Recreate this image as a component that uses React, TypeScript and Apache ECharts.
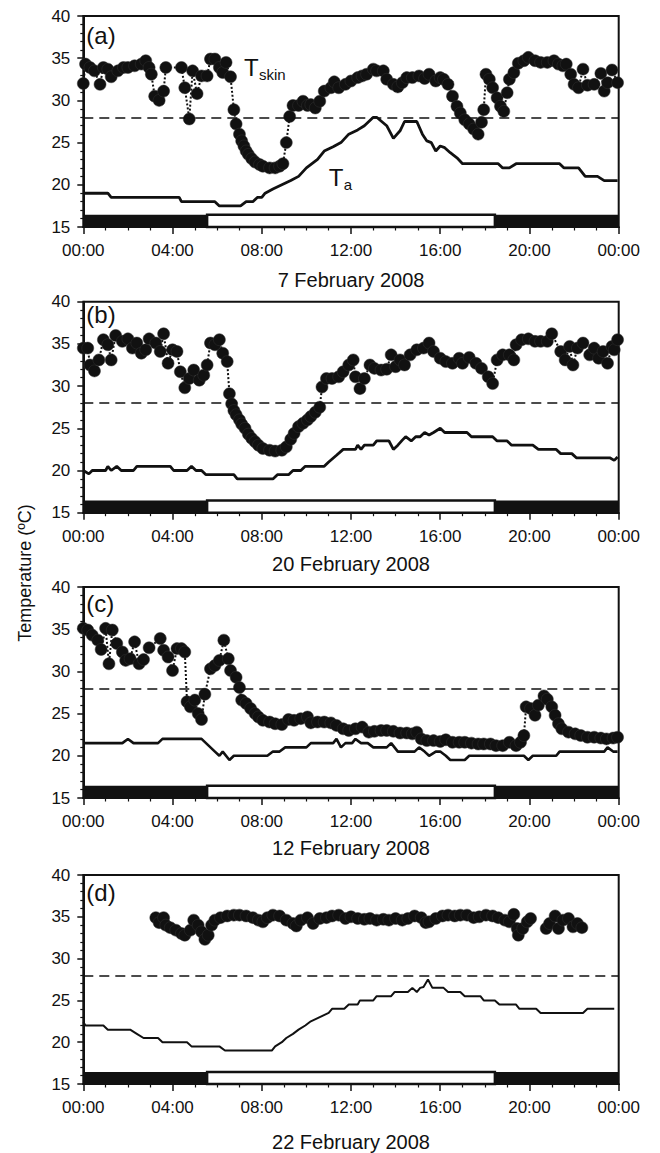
import React, { useEffect, useRef } from "react";
import * as echarts from "echarts";

// ---------- text ----------
const panelLetters = ["(a)", "(b)", "(c)", "(d)"];
const dateLabels = ["7 February 2008", "20 February 2008", "12 February 2008", "22 February 2008"];
const xTickLabels = ["00:00", "04:00", "08:00", "12:00", "16:00", "20:00", "00:00"];
const yAxisTitle = "Temperature (ºC)";

// ---------- photoperiod (hours) ----------
const lightsOn = 5.55;
const lightsOff = 18.45;
const thermoneutralLimit = 28;

// ---------- panel (a) 7 Feb 2008 ----------
const skinA: [number, number][] = [
  [0.0, 32.0], [0.1, 34.3], [0.3, 33.9], [0.5, 33.5], [0.75, 31.9], [0.9, 33.9], [1.1, 33.7], [1.25, 32.8],
  [1.55, 33.5], [1.8, 33.9], [2.0, 33.9], [2.3, 34.1], [2.6, 34.3], [2.8, 34.7], [2.95, 33.9], [3.05, 33.1],
  [3.2, 30.5], [3.4, 30.0], [3.6, 31.1], [3.7, 33.9], [4.4, 33.9], [4.55, 31.5], [4.75, 27.8], [4.9, 33.5],
  [5.1, 30.8], [5.3, 32.9], [5.55, 32.9], [5.7, 34.9], [5.9, 34.9], [6.1, 33.9], [6.25, 33.3], [6.4, 34.5],
  [6.6, 32.8], [6.75, 28.9], [6.85, 27.2], [7.0, 26.0], [7.1, 25.2], [7.2, 24.6], [7.3, 24.0], [7.4, 23.6],
  [7.55, 23.1], [7.7, 22.7], [7.9, 22.4], [8.05, 22.2], [8.35, 22.0], [8.6, 22.0], [8.8, 22.2], [8.95, 22.5],
  [9.1, 25.0], [9.25, 28.1], [9.4, 29.4], [9.65, 29.4], [9.85, 29.9], [10.05, 29.4], [10.2, 29.5], [10.4, 29.1],
  [10.6, 29.9], [10.8, 31.1], [11.1, 31.5], [11.25, 32.2], [11.45, 31.5], [11.75, 31.9], [12.0, 32.3], [12.3, 32.7],
  [12.5, 32.9], [12.7, 33.1], [13.0, 33.7], [13.15, 33.5], [13.45, 33.5], [13.6, 32.5], [13.9, 31.9], [14.1, 31.6],
  [14.3, 32.1], [14.5, 32.7], [14.75, 32.7], [15.05, 32.9], [15.3, 32.6], [15.5, 33.1], [15.8, 32.3], [16.0, 32.7],
  [16.15, 32.5], [16.35, 31.9], [16.55, 30.5], [16.75, 29.3], [16.9, 28.5], [17.1, 27.7], [17.3, 27.2], [17.5, 26.6],
  [17.7, 26.0], [17.85, 27.4], [17.95, 28.9], [18.05, 33.1], [18.2, 32.5], [18.35, 31.5], [18.55, 30.3], [18.7, 29.3],
  [18.85, 28.7], [19.0, 30.9], [19.1, 32.5], [19.3, 33.3], [19.5, 34.4], [19.75, 34.7], [19.95, 35.1], [20.25, 34.7],
  [20.5, 34.5], [20.8, 34.5], [21.1, 34.7], [21.3, 34.3], [21.5, 34.1], [21.65, 34.3], [21.85, 33.1], [22.0, 31.9],
  [22.2, 31.5], [22.4, 33.7], [22.6, 31.8], [22.9, 31.9], [23.2, 33.2], [23.35, 31.1], [23.5, 32.1], [23.7, 33.6],
  [23.95, 32.1],
];
const airA: [number, number][] = [
  [0.0, 19.0], [1.1, 19.0], [1.25, 18.5], [4.3, 18.5], [4.4, 18.0], [5.9, 18.0], [6.1, 17.5], [7.05, 17.5],
  [7.3, 18.0], [7.6, 18.0], [7.8, 18.5], [8.0, 18.5], [8.15, 19.0], [8.5, 19.5], [8.9, 20.0], [9.3, 20.5],
  [9.65, 21.0], [10.0, 22.0], [10.5, 23.0], [10.8, 24.0], [11.2, 24.5], [11.55, 25.0], [11.9, 26.0], [12.3, 26.5],
  [12.6, 27.0], [13.0, 28.0], [13.15, 28.0], [13.6, 27.0], [13.9, 25.5], [14.2, 26.4], [14.4, 27.5], [14.95, 27.5],
  [15.2, 26.0], [15.4, 25.2], [15.6, 25.0], [15.8, 24.0], [16.0, 24.6], [16.2, 24.4], [16.45, 23.8], [16.75, 23.2],
  [17.0, 22.5], [18.6, 22.5], [18.8, 22.0], [19.1, 22.0], [19.4, 22.5], [21.35, 22.5], [21.55, 22.0], [22.2, 22.0],
  [22.5, 21.0], [23.05, 21.0], [23.35, 20.5], [23.95, 20.5],
];

// ---------- panel (b) 20 Feb 2008 ----------
const skinB: [number, number][] = [
  [0.0, 34.5], [0.2, 34.5], [0.3, 32.5], [0.5, 31.8], [0.7, 33.1], [0.9, 35.5], [1.1, 34.9], [1.25, 33.1],
  [1.45, 36.0], [1.75, 35.3], [2.0, 35.6], [2.2, 34.5], [2.4, 35.1], [2.6, 33.9], [2.8, 34.3], [2.95, 35.6],
  [3.25, 35.1], [3.45, 34.1], [3.6, 36.2], [3.8, 32.7], [4.0, 34.3], [4.2, 34.1], [4.35, 31.7], [4.55, 29.8],
  [4.75, 30.9], [4.95, 31.9], [5.2, 30.7], [5.4, 31.3], [5.55, 32.5], [5.7, 35.1], [5.9, 34.9], [6.1, 35.5],
  [6.25, 33.9], [6.45, 32.9], [6.55, 29.1], [6.65, 27.9], [6.75, 27.1], [6.85, 26.6], [7.0, 26.0], [7.1, 25.5],
  [7.25, 25.0], [7.4, 24.3], [7.55, 23.8], [7.7, 23.4], [7.85, 23.0], [8.05, 22.6], [8.35, 22.4], [8.6, 22.3],
  [8.9, 22.4], [9.1, 22.8], [9.3, 23.7], [9.45, 24.4], [9.65, 25.2], [9.85, 25.6], [10.05, 26.0], [10.2, 26.4],
  [10.4, 26.9], [10.6, 27.5], [10.7, 29.9], [10.9, 30.9], [11.15, 30.9], [11.45, 31.1], [11.65, 31.7], [11.9, 32.5],
  [12.1, 33.1], [12.2, 31.1], [12.4, 29.7], [12.6, 30.9], [12.85, 32.5], [13.05, 32.1], [13.35, 31.9], [13.6, 32.0],
  [13.8, 33.7], [14.0, 32.3], [14.2, 33.1], [14.4, 32.5], [14.65, 33.7], [14.95, 34.3], [15.25, 34.5], [15.5, 35.1],
  [15.7, 34.1], [16.0, 33.3], [16.25, 32.9], [16.55, 32.7], [16.85, 33.3], [17.0, 32.7], [17.3, 33.4], [17.6, 32.7],
  [17.85, 32.1], [18.15, 31.1], [18.35, 30.3], [18.55, 33.1], [18.8, 33.7], [19.1, 33.7], [19.3, 33.1], [19.4, 34.9],
  [19.65, 35.5], [19.95, 35.6], [20.25, 35.3], [20.5, 35.3], [20.8, 35.3], [21.0, 36.2], [21.4, 34.1], [21.6, 33.1],
  [21.8, 34.7], [21.95, 32.5], [22.15, 34.5], [22.4, 35.1], [22.7, 33.7], [22.9, 34.5], [23.1, 33.3], [23.3, 34.1],
  [23.5, 32.7], [23.7, 34.7], [23.8, 34.3], [23.95, 35.5],
];
const airB: [number, number][] = [
  [0.0, 20.0], [0.25, 19.6], [0.4, 20.0], [1.0, 20.0], [1.1, 20.5], [1.25, 20.0], [1.5, 20.5], [1.7, 20.0],
  [2.25, 20.0], [2.4, 20.5], [3.9, 20.5], [4.05, 20.0], [4.65, 20.0], [4.85, 20.5], [5.05, 20.0], [5.3, 20.0],
  [5.5, 19.5], [6.75, 19.5], [6.9, 19.0], [8.5, 19.0], [8.7, 19.5], [9.2, 19.5], [9.4, 20.0], [9.75, 20.0],
  [9.95, 20.5], [10.8, 20.5], [11.0, 21.0], [11.35, 21.8], [11.65, 22.5], [12.2, 22.5], [12.3, 23.0], [12.45, 22.5],
  [12.6, 23.0], [13.0, 23.0], [13.15, 23.5], [13.7, 23.5], [13.9, 22.5], [14.1, 23.0], [14.3, 23.6], [14.45, 24.0],
  [14.7, 23.5], [14.9, 24.0], [15.1, 24.0], [15.3, 24.5], [15.5, 24.2], [15.7, 24.5], [16.0, 25.0], [16.2, 24.5],
  [17.2, 24.5], [17.4, 24.0], [18.35, 24.0], [18.55, 23.5], [19.0, 23.5], [19.2, 23.0], [20.15, 23.0], [20.4, 22.5],
  [21.2, 22.5], [21.4, 22.0], [21.9, 22.0], [22.1, 21.5], [23.6, 21.5], [23.8, 21.2], [23.95, 21.6],
];

// ---------- panel (c) 12 Feb 2008 ----------
const skinC: [number, number][] = [
  [0.0, 35.1], [0.2, 34.9], [0.4, 34.3], [0.65, 33.7], [0.8, 32.6], [1.0, 35.1], [1.15, 30.9], [1.3, 34.9],
  [1.5, 33.3], [1.75, 32.3], [1.9, 31.3], [2.1, 31.5], [2.3, 33.5], [2.5, 30.9], [2.7, 31.4], [2.95, 32.8],
  [3.45, 33.9], [3.6, 32.5], [3.8, 31.7], [4.0, 30.1], [4.2, 32.7], [4.4, 32.7], [4.55, 32.3], [4.65, 26.4],
  [4.8, 25.8], [5.0, 26.6], [5.15, 25.0], [5.3, 24.3], [5.45, 27.3], [5.7, 30.3], [5.9, 30.7], [6.1, 31.3],
  [6.3, 33.7], [6.5, 31.5], [6.6, 30.1], [6.85, 29.3], [7.0, 28.1], [7.1, 26.6], [7.3, 26.2], [7.5, 25.6],
  [7.7, 25.0], [7.85, 24.6], [8.05, 24.2], [8.35, 24.0], [8.6, 23.8], [8.9, 23.7], [9.2, 24.3], [9.45, 24.2],
  [9.75, 24.4], [10.05, 24.6], [10.2, 23.9], [10.5, 24.0], [10.8, 24.0], [11.1, 23.9], [11.35, 23.6], [11.65, 23.2],
  [11.9, 23.0], [12.2, 23.2], [12.5, 23.4], [12.8, 22.8], [13.05, 22.9], [13.35, 23.0], [13.6, 23.0], [13.9, 22.9],
  [14.2, 22.7], [14.5, 22.7], [14.75, 22.6], [14.95, 22.8], [15.15, 22.0], [15.4, 21.8], [15.7, 21.8], [16.0, 21.7],
  [16.25, 21.9], [16.55, 21.6], [16.85, 21.6], [17.1, 21.6], [17.4, 21.5], [17.7, 21.4], [17.95, 21.4], [18.25, 21.4],
  [18.5, 21.2], [18.8, 21.2], [19.1, 21.6], [19.4, 21.2], [19.6, 21.6], [19.75, 22.4], [19.85, 25.8], [20.05, 25.6],
  [20.25, 24.8], [20.4, 26.0], [20.65, 27.1], [20.8, 26.7], [21.0, 25.8], [21.15, 24.8], [21.3, 23.8], [21.45, 23.2],
  [21.75, 22.8], [22.05, 22.6], [22.3, 22.4], [22.6, 22.2], [22.9, 22.2], [23.2, 22.1], [23.45, 22.0], [23.75, 22.1],
  [23.95, 22.2],
];
const airC: [number, number][] = [
  [0.0, 21.5], [1.75, 21.5], [2.0, 22.0], [2.25, 21.5], [3.35, 21.5], [3.55, 22.0], [5.3, 22.0], [5.5, 21.5],
  [5.9, 20.5], [6.1, 20.0], [6.25, 20.5], [6.55, 19.5], [6.75, 20.0], [8.25, 20.0], [8.5, 20.5], [8.8, 20.5],
  [9.05, 21.0], [10.0, 21.0], [10.2, 21.5], [11.2, 21.5], [11.35, 22.0], [11.55, 21.0], [11.75, 21.5], [12.05, 21.5],
  [12.2, 22.0], [12.45, 21.5], [12.75, 21.5], [13.0, 21.0], [13.6, 21.0], [13.8, 21.5], [14.1, 20.5], [14.85, 20.5],
  [15.05, 21.0], [15.3, 20.5], [15.5, 20.0], [15.8, 20.5], [16.0, 20.5], [16.25, 20.0], [16.45, 19.5], [17.1, 19.5],
  [17.3, 20.0], [19.75, 20.0], [19.95, 19.5], [20.15, 20.0], [21.2, 20.0], [21.35, 20.5], [23.35, 20.5], [23.5, 21.0],
  [23.75, 20.5], [23.95, 20.5],
];

// ---------- panel (d) 22 Feb 2008 ----------
const skinD: [number, number | null][] = [
  [3.25, 34.9], [3.4, 34.3], [3.6, 34.9], [3.7, 34.0], [3.9, 33.7], [4.15, 33.4], [4.4, 33.0], [4.55, 32.8],
  [4.8, 33.4], [4.95, 34.6], [5.15, 34.0], [5.3, 33.2], [5.45, 32.3], [5.6, 32.8], [5.75, 34.0], [5.9, 34.6],
  [6.15, 34.9], [6.45, 35.1], [6.75, 35.2], [7.0, 35.2], [7.3, 35.1], [7.6, 34.9], [7.85, 34.6], [8.05, 34.4],
  [8.25, 34.9], [8.5, 35.2], [8.8, 35.1], [9.1, 34.6], [9.4, 34.2], [9.55, 33.9], [9.75, 34.6], [10.05, 34.9],
  [10.3, 34.2], [10.6, 34.8], [10.9, 34.9], [11.15, 35.1], [11.45, 35.2], [11.75, 34.8], [12.0, 35.0], [12.3, 34.8],
  [12.6, 34.7], [12.85, 34.8], [13.15, 34.6], [13.45, 34.7], [13.7, 34.6], [14.0, 34.8], [14.3, 34.6], [14.55, 34.8],
  [14.85, 35.1], [15.15, 34.9], [15.35, 34.3], [15.5, 34.4], [15.8, 34.8], [16.1, 35.1], [16.35, 35.2], [16.65, 35.1],
  [16.9, 35.2], [17.2, 35.2], [17.5, 34.9], [17.75, 35.0], [18.05, 35.2], [18.35, 35.1], [18.6, 34.9], [18.9, 34.6],
  [19.1, 34.4], [19.3, 35.3], [19.45, 33.6], [19.5, 32.8], [19.7, 33.6], [19.9, 34.4], [20.05, 34.8], [20.4, null],
  [20.75, 33.6], [20.9, 34.2], [21.15, 35.1], [21.3, 33.6], [21.5, 34.6], [21.75, 34.8], [21.95, 33.8], [22.15, 34.2],
  [22.35, 33.7],
];
const airD: [number, number][] = [
  [0.0, 22.4], [0.1, 22.0], [0.9, 22.0], [1.1, 21.5], [2.1, 21.5], [2.4, 21.0], [2.7, 20.5], [3.35, 20.5],
  [3.55, 20.0], [4.65, 20.0], [4.85, 19.5], [6.1, 19.5], [6.35, 19.0], [8.45, 19.0], [8.6, 19.5], [8.9, 20.0],
  [9.1, 20.5], [9.4, 21.0], [9.65, 21.5], [9.95, 22.0], [10.2, 22.5], [10.6, 23.0], [11.0, 23.5], [11.15, 24.0],
  [11.7, 24.0], [11.9, 24.5], [12.3, 24.5], [12.4, 25.0], [13.0, 25.0], [13.15, 25.5], [13.8, 25.5], [13.95, 26.0],
  [14.55, 26.0], [14.75, 26.5], [14.95, 26.0], [15.1, 26.5], [15.25, 26.6], [15.45, 27.5], [15.65, 26.5], [16.15, 26.5],
  [16.35, 26.0], [16.9, 26.0], [17.1, 25.5], [17.8, 25.5], [17.95, 25.0], [18.45, 25.0], [18.65, 24.5], [19.4, 24.5],
  [19.55, 24.0], [20.3, 24.0], [20.5, 23.5], [22.4, 23.5], [22.6, 24.0], [23.8, 24.0],
];

const skinSeries = [skinA, skinB, skinC, skinD];
const airSeries = [airA, airB, airC, airD];

const FONT = "'Liberation Sans', Arial, Helvetica, sans-serif";
const INK = "#111";

export default function App() {
  const ref = useRef<HTMLDivElement>(null);

  useEffect(() => {
    if (!ref.current) return;
    const chart = echarts.init(ref.current, undefined, { renderer: "svg" });

    const tops = [16, 301.7, 587, 875];
    const plotH = 211;
    const left = 83.3;
    const right = 41.3;
    const nameGaps = [43, 41, 40, 48];
    const letterOffsets = [20, 14, 17, 18];
    const airWidth = [2.8, 2.8, 2.6, 2.0];

    const grids = tops.map((t) => ({
      left, right, top: t, height: plotH,
      show: true, borderColor: INK, borderWidth: 2, backgroundColor: "transparent",
    }));

    const xAxes = tops.map((_, i) => ({
      type: "value", gridIndex: i, min: 0, max: 24, interval: 4,
      name: dateLabels[i], nameLocation: "middle", nameGap: nameGaps[i],
      nameTextStyle: { fontFamily: FONT, fontSize: 20, color: INK },
      axisLine: { show: true, lineStyle: { color: INK, width: 2 } },
      axisTick: { show: true, inside: false, length: 7, lineStyle: { color: INK, width: 1.5 } },
      minorTick: { show: true, splitNumber: 4, length: 3.5, lineStyle: { color: INK, width: 1.2 } },
      splitLine: { show: false },
      axisLabel: {
        fontFamily: FONT, fontSize: 17, color: INK, margin: 15,
        formatter: (v: number) => xTickLabels[Math.round(v / 4)] ?? "",
      },
    }));

    const yAxes = tops.map((_, i) => ({
      type: "value", gridIndex: i, min: 15, max: 40, interval: 5,
      axisLine: { show: true, lineStyle: { color: INK, width: 2 } },
      axisTick: { show: true, inside: false, length: 6, lineStyle: { color: INK, width: 1.5 } },
      minorTick: { show: true, splitNumber: 5, length: 3, lineStyle: { color: INK, width: 1.2 } },
      splitLine: { show: false },
      axisLabel: { fontFamily: FONT, fontSize: 17, color: INK, margin: 13 },
    }));

    const series: any[] = [];
    tops.forEach((_, i) => {
      series.push({
        type: "line", xAxisIndex: i, yAxisIndex: i,
        data: airSeries[i], showSymbol: false, symbol: "none",
        lineStyle: { color: INK, width: airWidth[i] }, z: 3,
        markLine: {
          silent: true, symbol: ["none", "none"], label: { show: false },
          lineStyle: { color: INK, type: [10, 6], width: 1.5 },
          data: [{ yAxis: thermoneutralLimit }],
        },
        markArea: {
          silent: true,
          data: [
            [{ xAxis: 0, yAxis: 15, itemStyle: { color: INK } }, { xAxis: lightsOn, yAxis: 16.45 }],
            [{ xAxis: lightsOn, yAxis: 15, itemStyle: { color: "#fff", borderColor: INK, borderWidth: 2.5 } }, { xAxis: lightsOff, yAxis: 16.45 }],
            [{ xAxis: lightsOff, yAxis: 15, itemStyle: { color: INK } }, { xAxis: 24, yAxis: 16.45 }],
          ],
        },
      });
      series.push({
        type: "line", xAxisIndex: i, yAxisIndex: i,
        data: skinSeries[i].map((p) => [p[0], p[1] === null ? "-" : p[1]]),
        symbol: "circle", symbolSize: 12, showSymbol: true, showAllSymbol: true,
        connectNulls: false,
        itemStyle: { color: INK, borderColor: "#333", borderWidth: 0.5 },
        lineStyle: { color: INK, width: 2, type: "dotted" }, z: 4,
      });
    });

    chart.setOption({
      animation: false,
      backgroundColor: "#fff",
      grid: grids,
      xAxis: xAxes,
      yAxis: yAxes,
      series,
    });

    const px = (g: number, h: number, v: number) =>
      chart.convertToPixel({ gridIndex: g } as any, [h, v]) as number[];

    const graphics: any[] = [];
    tops.forEach((t, i) => {
      graphics.push({
        type: "text", left: left + 3, top: t + letterOffsets[i] - 13,
        style: { text: panelLetters[i], fontFamily: FONT, fontSize: 24, fill: INK },
      });
    });
    const ts = px(0, 7.2, 33.9);
    const ta = px(0, 11.0, 20.9);
    graphics.push(
      { type: "text", x: ts[0], y: ts[1], style: { text: "T", fontFamily: FONT, fontSize: 24, fill: INK, verticalAlign: "middle", align: "left" } },
      { type: "text", x: ts[0] + 15, y: ts[1] + 7, style: { text: "skin", fontFamily: FONT, fontSize: 15, fill: INK, verticalAlign: "middle", align: "left" } },
      { type: "text", x: ta[0], y: ta[1], style: { text: "T", fontFamily: FONT, fontSize: 24, fill: INK, verticalAlign: "middle", align: "left" } },
      { type: "text", x: ta[0] + 15, y: ta[1] + 7, style: { text: "a", fontFamily: FONT, fontSize: 15, fill: INK, verticalAlign: "middle", align: "left" } },
      {
        type: "text", x: 25, y: 573, rotation: Math.PI / 2,
        style: { text: yAxisTitle, fontFamily: FONT, fontSize: 18, fill: INK, align: "center", verticalAlign: "middle" },
      },
    );
    chart.setOption({ graphic: graphics });

    return () => chart.dispose();
  }, []);

  return (
    <div
      ref={ref}
      style={{ position: "absolute", left: 0, top: 0, width: 660, height: 1153, background: "#fff" }}
    />
  );
}
